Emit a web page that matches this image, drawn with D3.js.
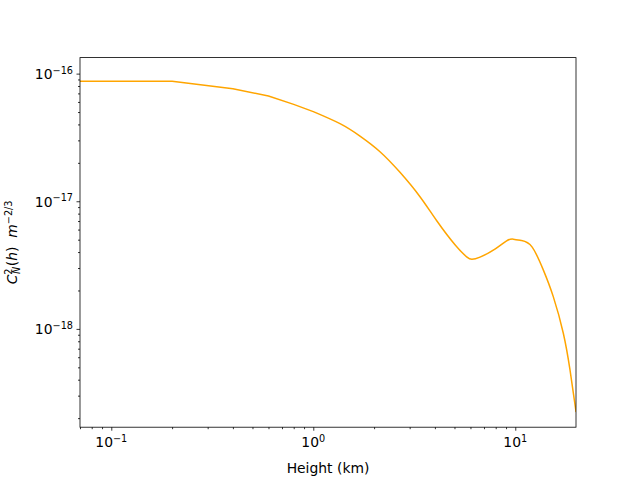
<!DOCTYPE html>
<html><head><meta charset="utf-8">
<script src="https://cdn.jsdelivr.net/npm/d3@7"></script>
<style>body{margin:0;background:#fff}svg{display:block}text{font-family:"DejaVu Sans",sans-serif}</style>
</head><body>
<svg id="c" width="640" height="480"></svg>
<script>
// Data
const heights = [0.07, 0.2, 0.4, 0.6, 0.8, 1.0, 1.356, 1.703, 2.139, 2.687, 3.375, 4.085, 5.03, 5.745, 6.10, 6.69, 7.93, 9.06, 9.78, 10.74, 12.10, 13.76, 15.42, 17.29, 18.66, 20.0];
const cn2 = [8.7e-17, 8.7e-17, 7.62e-17, 6.68e-17, 5.74e-17, 5.04e-17, 4.055e-17, 3.24e-17, 2.445e-17, 1.685e-17, 1.085e-17, 7.03e-18, 4.56e-18, 3.67e-18, 3.51e-18, 3.65e-18, 4.22e-18, 4.90e-18, 5.05e-18, 4.92e-18, 4.39e-18, 2.90e-18, 1.79e-18, 9.25e-19, 4.77e-19, 2.23e-19];
const xMajor = [0.1, 1, 10];
const xMajorExp = ["\u22121", "0", "1"];
const yMajor = [1e-18, 1e-17, 1e-16];
const yMajorExp = ["\u221218", "\u221217", "\u221216"];
const xLabel = "Height (km)";

const svg = d3.select("#c");
const L = 80, R = 576, T = 57.6, B = 427.2;
const x = d3.scaleLog().domain([0.0700, 19.98]).range([L, R]);
const y = d3.scaleLog().domain([1.698e-19, 1.335e-16]).range([B, T]);

function minors(lo, hi) {
  const out = [];
  for (let e = Math.floor(Math.log10(lo)); e <= Math.ceil(Math.log10(hi)); e++) {
    for (let m = 2; m <= 9; m++) { const v = m * Math.pow(10, e); if (v >= lo && v <= hi) out.push(v); }
  }
  return out;
}

// line: straight segments for the coarse low part, smooth spline above 1 km
const pts = heights.map((h, i) => [h, cn2[i]]);
const low = pts.filter(d => d[0] <= 1.0);
const high = pts.filter(d => d[0] >= 1.0);
svg.append("clipPath").attr("id", "clip").append("rect").attr("x", L).attr("y", T).attr("width", R - L).attr("height", B - T);
const gl = svg.append("g").attr("clip-path", "url(#clip)");
const lineL = d3.line().x(d => x(d[0])).y(d => y(d[1]));
const lineH = d3.line().x(d => x(d[0])).y(d => y(d[1])).curve(d3.curveNatural);
const d1 = lineL(low), d2 = lineH(high);
gl.append("path").attr("d", d1 + "L" + d2.slice(1)).attr("fill", "none").attr("stroke", "#FFA500").attr("stroke-width", 1.5).attr("stroke-linejoin", "round");

// axes
const gx = svg.append("g").attr("transform", `translate(0,${B})`);
gx.call(d3.axisBottom(x).tickValues(minors(0.0700, 19.98)).tickSize(2).tickFormat(""));
gx.append("g").call(d3.axisBottom(x).tickValues(xMajor).tickSize(3.5).tickFormat(""));
const gy = svg.append("g").attr("transform", `translate(${L},0)`);
gy.call(d3.axisLeft(y).tickValues(minors(1.698e-19, 1.335e-16)).tickSize(2).tickFormat(""));
gy.append("g").call(d3.axisLeft(y).tickValues(yMajor).tickSize(3.5).tickFormat(""));
svg.selectAll(".domain").remove();
svg.selectAll(".tick line").attr("stroke", "#000").attr("stroke-width", 0.8);

// frame
svg.append("rect").attr("x", L).attr("y", T).attr("width", R - L).attr("height", B - T)
  .attr("fill", "none").attr("stroke", "#000").attr("stroke-width", 0.8);

// tick labels
xMajor.forEach((v, i) => {
  const t = svg.append("text").attr("x", x(v)).attr("y", 447).attr("text-anchor", "middle").attr("font-size", 13.9).attr("fill", "#000");
  t.append("tspan").text("10");
  t.append("tspan").attr("dy", -5.5).attr("font-size", 9.7).text(xMajorExp[i]);
});
yMajor.forEach((v, i) => {
  const t = svg.append("text").attr("x", 73).attr("y", y(v) + 5.5).attr("text-anchor", "end").attr("font-size", 13.9).attr("fill", "#000");
  t.append("tspan").text("10");
  t.append("tspan").attr("dy", -5.5).attr("font-size", 9.7).text(yMajorExp[i]);
});

// x label
svg.append("text").attr("x", (L + R) / 2).attr("y", 472.5).attr("text-anchor", "middle").attr("font-size", 13.9).text(xLabel);

// y label (mathtext style)
const yl = svg.append("text").attr("transform", `translate(17,${(T + B) / 2}) rotate(-90)`).attr("text-anchor", "middle").attr("font-size", 13.9);
yl.append("tspan").attr("font-style", "italic").text("C");
yl.append("tspan").attr("font-size", 9.7).attr("dy", -5).text("2");
yl.append("tspan").attr("font-size", 9.7).attr("font-style", "italic").attr("dx", -5.5).attr("dy", 8).text("N");
yl.append("tspan").attr("dy", -3).attr("dx", 0.5).text("(");
yl.append("tspan").attr("font-style", "italic").text("h");
yl.append("tspan").text(")\u00a0\u00a0");
yl.append("tspan").attr("font-style", "italic").text("m");
yl.append("tspan").attr("font-size", 9.7).attr("dy", -5.5).text("\u22122/3");
</script>
</body></html>
